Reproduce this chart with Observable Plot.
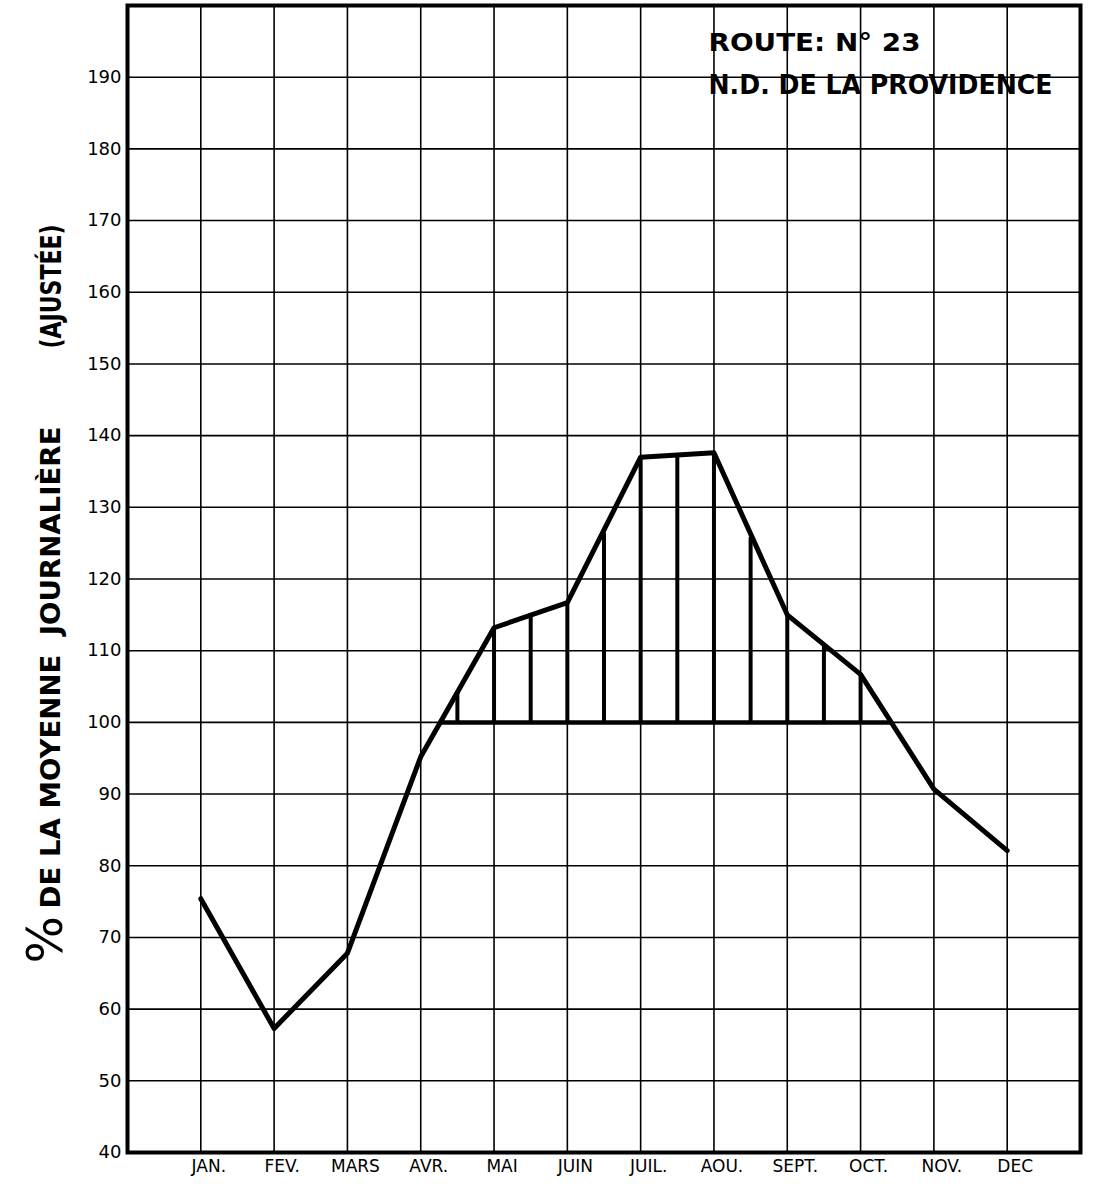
<!DOCTYPE html>
<html><head><meta charset="utf-8">
<script src="https://cdn.jsdelivr.net/npm/d3@7"></script>
<script src="https://cdn.jsdelivr.net/npm/@observablehq/plot@0.6"></script>
<style>html,body{margin:0;padding:0;background:#fff}</style>
</head><body><div id="chart"></div>
<script>
// ---- data ----
const months = ["JAN.", "FEV.", "MARS", "AVR.", "MAI", "JUIN", "JUIL.", "AOU.", "SEPT.", "OCT.", "NOV.", "DEC"];
const monthPos = [1, 2, 3, 4, 5, 6, 7, 8, 9, 10, 11, 12];
const values = [75.4, 57.3, 67.8, 95.2, 113.2, 116.7, 137.0, 137.6, 115.0, 106.7, 90.7, 82.1];
const hatchPos = [4.5, 5, 5.5, 6, 6.5, 7, 7.5, 8, 8.5, 9, 9.5, 10];
const hatchTop = [104.3, 113.2, 114.9, 116.7, 126.4, 137.0, 137.3, 137.6, 125.8, 115.0, 110.7, 106.7];
const baseline = 100;
const baselineSpan = [4.27, 10.42];
const yTicks = [40, 50, 60, 70, 80, 90, 100, 110, 120, 130, 140, 150, 160, 170, 180, 190];
const yGrid = [50, 60, 70, 80, 90, 100, 110, 120, 130, 140, 150, 160, 170, 180, 190];
const routeLines = ["ROUTE: N° 23", "N.D. DE LA PROVIDENCE"];
const yLabelParts = ["%", "DE LA MOYENNE  JOURNALIÈRE", "(AJUSTÉE)"];

const series = monthPos.map((m, i) => ({x: m, y: values[i]}));
const hatch = hatchPos.map((p, i) => ({x: p, top: hatchTop[i]}));

const F = "DejaVu Sans, Verdana, sans-serif";

const chart = Plot.plot({
  width: 1095,
  height: 1185,
  marginLeft: 127,
  marginRight: 15,
  marginTop: 5,
  marginBottom: 33,
  style: {fontFamily: F, fontSize: "18px", color: "#000", background: "#fff"},
  x: {domain: [0, 13]},
  y: {domain: [40, 200]},
  marks: [
    Plot.ruleY(yGrid, {stroke: "#000", strokeWidth: 1.6}),
    Plot.ruleX(monthPos, {stroke: "#000", strokeWidth: 1.6}),
    Plot.ruleX(hatch, {x: "x", y1: baseline, y2: "top", stroke: "#000", strokeWidth: 4}),
    Plot.ruleY([baseline], {x1: baselineSpan[0], x2: baselineSpan[1], stroke: "#000", strokeWidth: 4.5}),
    Plot.line(series, {x: "x", y: "y", stroke: "#000", strokeWidth: 5, strokeLinejoin: "round"}),
    Plot.frame({stroke: "#000", strokeWidth: 4}),
    Plot.axisY({ticks: yTicks, tickSize: 0, tickPadding: 6, label: null, fontSize: 18}),
    Plot.axisX({ticks: monthPos, tickFormat: d => months[d - 1], tickSize: 0, tickPadding: 7, dx: 8, label: null, fontSize: 17}),
    Plot.text([routeLines[0]], {frameAnchor: "top-left", dx: 581, dy: 37, textAnchor: "start", lineAnchor: "middle", fontSize: 25, fontWeight: 600, fill: "#000"}),
    Plot.text([routeLines[1]], {frameAnchor: "top-left", dx: 581, dy: 80, textAnchor: "start", lineAnchor: "middle", fontSize: 26, fontWeight: "bold", fill: "#000"}),
    Plot.text([yLabelParts[0]], {frameAnchor: "bottom-left", dx: -82, dy: -189, rotate: -90, textAnchor: "start", lineAnchor: "middle", fontSize: 50, fill: "#000"}),
    Plot.text([yLabelParts[1]], {frameAnchor: "bottom-left", dx: -76, dy: -244, rotate: -90, textAnchor: "start", lineAnchor: "middle", fontSize: 27, fontWeight: "bold", fill: "#000"}),
    Plot.text([yLabelParts[2]], {frameAnchor: "bottom-left", dx: -75, dy: -804, rotate: -90, textAnchor: "start", lineAnchor: "middle", fontSize: 28, fontWeight: "bold", fill: "#000"})
  ]
});

// fit lettered texts to their lengths in the reference
const fits = {"ROUTE: N° 23": 212, "N.D. DE LA PROVIDENCE": 344, "DE LA MOYENNE  JOURNALIÈRE": 482, "(AJUSTÉE)": 124};
d3.select(chart).selectAll("text").each(function() {
  const t = this.textContent;
  if (fits[t]) {
    this.setAttribute("textLength", fits[t]);
    this.setAttribute("lengthAdjust", "spacingAndGlyphs");
    this.setAttribute("xml:space", "preserve");
    this.style.whiteSpace = "pre";
  }
});
document.getElementById("chart").appendChild(chart);
</script>
</body></html>
